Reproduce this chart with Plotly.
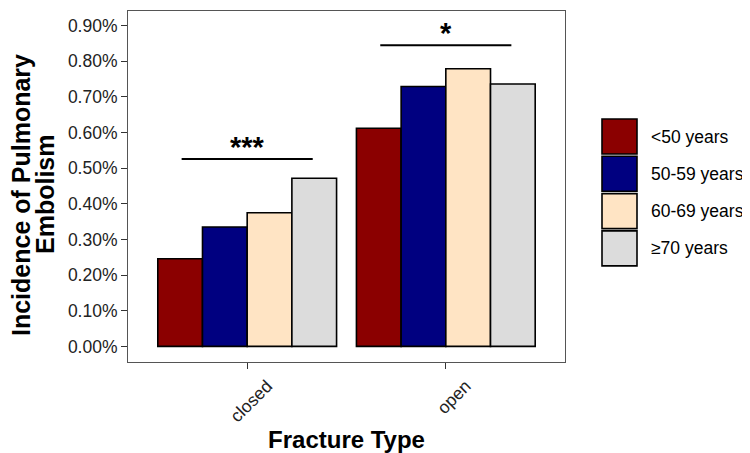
import plotly.graph_objects as go

# ---- data ----
fracture_types = ["closed", "open"]
age_groups = ["<50 years", "50-59 years", "60-69 years", "≥70 years"]
incidence = {
    "<50 years":   [0.00246, 0.00612],
    "50-59 years": [0.00335, 0.00729],
    "60-69 years": [0.00375, 0.00779],
    "≥70 years":   [0.00472, 0.00736],
}
sig_labels = ["***", "*"]
sig_heights = [0.00526, 0.00845]
y_ticks = [0.0, 0.001, 0.002, 0.003, 0.004, 0.005, 0.006, 0.007, 0.008, 0.009]

colors = ["#8B0000", "#000080", "#FFE4C4", "#DCDCDC"]
FONT = "Liberation Sans, Arial, Helvetica, sans-serif"

OFF = 8  # page body margin
W, H = 750 - OFF, 453 - OFF
L, T = 128 - OFF, 11 - OFF
R = W - (565 - OFF)
B = H - (362 - OFF)
pw, ph = W - L - R, H - T - B

def px2paper(x, y):
    # x, y given in screenshot pixels
    return (x - OFF - L) / pw, (H - B - (y - OFF)) / ph

fig = go.Figure()
for g, c in zip(age_groups, colors):
    fig.add_trace(go.Bar(
        x=fracture_types, y=incidence[g], name=g,
        marker=dict(color=c, line=dict(color="black", width=1.6)),
        showlegend=False,
    ))

shapes = []
annotations = []
# significance brackets
for i, (lab, h) in enumerate(zip(sig_labels, sig_heights)):
    shapes.append(dict(type="line", xref="x", yref="y",
                       x0=i - 0.33, x1=i + 0.33, y0=h, y1=h,
                       line=dict(color="black", width=2)))
    annotations.append(dict(xref="x", yref="y", x=i, y=h, text="<b>" + lab + "</b>",
                            showarrow=False, yanchor="bottom", yshift=-6,
                            font=dict(family=FONT, size=29, color="black")))

# custom legend
for k, (g, c) in enumerate(zip(age_groups, colors)):
    top = 119 + k * 37.3
    x0, y0 = px2paper(602, top + 35)
    x1, y1 = px2paper(637, top)
    shapes.append(dict(type="rect", xref="paper", yref="paper",
                       x0=x0, x1=x1, y0=y0, y1=y1,
                       fillcolor=c, line=dict(color="black", width=1.6)))
    tx, ty = px2paper(649, top + 17.5)
    annotations.append(dict(xref="paper", yref="paper", x=tx, y=ty, text=g,
                            showarrow=False, xanchor="left", yanchor="middle",
                            font=dict(family=FONT, size=17.5, color="black")))

# y-axis title (two tight lines)
for txt, cx in [("Incidence of Pulmonary", 21), ("Embolism", 45)]:
    yx, yy = px2paper(cx, 195)
    annotations.append(dict(xref="paper", yref="paper", x=yx, y=yy,
                            text="<b>" + txt + "</b>",
                            textangle=-90, showarrow=False,
                            xanchor="center", yanchor="middle",
                            font=dict(family=FONT, size=25, color="black")))

fig.update_layout(
    width=W, height=H,
    margin=dict(l=L, r=R, t=T, b=B),
    paper_bgcolor="white", plot_bgcolor="white",
    barmode="group", bargap=0.1, bargroupgap=0,
    shapes=shapes, annotations=annotations,
    font=dict(family=FONT),
    xaxis=dict(
        range=[-0.6, 1.6], showgrid=False, zeroline=False,
        showline=True, linecolor="#555555", linewidth=1, mirror=True,
        ticks="outside", ticklen=6, tickcolor="#333333",
        tickangle=-45, ticklabelshift=20,
        tickfont=dict(family=FONT, size=17.5, color="#222222"),
        title=dict(text="<b>Fracture Type</b>", standoff=4,
                   font=dict(family=FONT, size=24, color="black")),
    ),
    yaxis=dict(
        range=[-0.000437, 0.00941], showgrid=False, zeroline=False,
        showline=True, linecolor="#555555", linewidth=1, mirror=True,
        ticks="outside", ticklen=6, tickcolor="#333333",
        tickvals=y_ticks, tickformat=".2%",
        tickfont=dict(family=FONT, size=17.5, color="#222222"),
    ),
)

fig.write_html("out.html")
